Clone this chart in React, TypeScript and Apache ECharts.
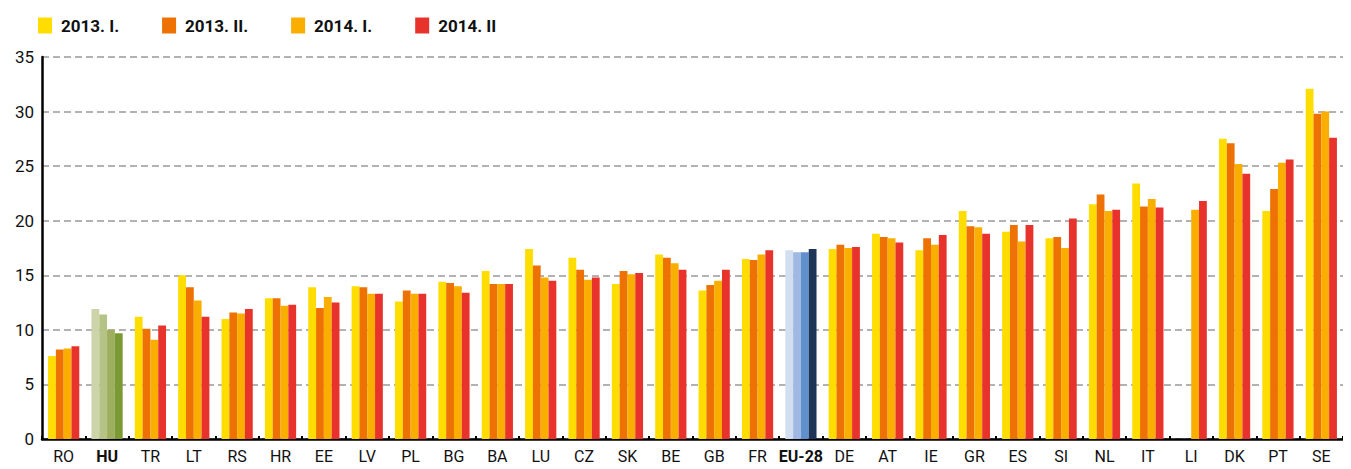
import React, { useEffect, useRef } from "react";
import * as echarts from "echarts";

const categories = ["RO","HU","TR","LT","RS","HR","EE","LV","PL","BG","BA","LU","CZ","SK","BE","GB","FR","EU-28","DE","AT","IE","GR","ES","SI","NL","IT","LI","DK","PT","SE"];
const seriesNames = ["2013. I.", "2013. II.", "2014. I.", "2014. II"];
const s2013I = [7.6,11.9,11.2,15.0,11.0,12.9,13.9,14.0,12.6,14.4,15.4,17.4,16.6,14.2,16.9,13.6,16.5,17.3,17.4,18.8,17.3,20.9,19.0,18.4,21.5,23.4,null,27.5,20.9,32.1];
const s2013II = [8.2,11.4,10.1,13.9,11.6,12.9,12.0,13.9,13.6,14.3,14.2,15.9,15.5,15.4,16.6,14.1,16.4,17.1,17.8,18.5,18.4,19.5,19.6,18.5,22.4,21.3,null,27.1,22.9,29.8];
const s2014I = [8.3,10.0,9.1,12.7,11.5,12.2,13.0,13.3,13.3,14.0,14.2,14.8,14.6,15.1,16.1,14.5,16.9,17.1,17.5,18.4,17.8,19.4,18.1,17.5,20.9,22.0,21.0,25.2,25.3,30.0];
const s2014II = [8.5,9.7,10.4,11.2,11.9,12.3,12.5,13.3,13.3,13.4,14.2,14.5,14.8,15.2,15.5,15.5,17.3,17.4,17.6,18.0,18.7,18.8,19.6,20.2,21.0,21.2,21.8,24.3,25.6,27.6];
const seriesValues = [s2013I, s2013II, s2014I, s2014II];
const seriesColors = ["#FFDD00", "#EE7203", "#F9AE00", "#E8332C"];
const huColors = ["#CDD4AA", "#B6C386", "#9DAF5E", "#7C9A34"];
const euColors = ["#D2DFF1", "#A0B9E2", "#6090CC", "#1F3558"];
const yTicks = [0, 5, 10, 15, 20, 25, 30, 35];

export default function App() {
  const ref = useRef<HTMLDivElement>(null);
  useEffect(() => {
    const chart = echarts.init(ref.current!, null, { renderer: "svg" });
    const font = "Roboto";
    chart.setOption({
      animation: false,
      textStyle: { fontFamily: font },
      legend: {
        left: 25,
        top: 4,
        itemWidth: 14,
        itemHeight: 16,
        itemGap: 43,
        icon: "rect",
        textStyle: { fontSize: 17, fontWeight: "bold", color: "#111", fontFamily: font, padding: [0, 0, 0, 4] },
        data: seriesNames,
      },
      grid: { left: 34, right: 8, top: 49, bottom: 30, containLabel: false },
      xAxis: {
        type: "category",
        data: categories,
        axisLine: { lineStyle: { color: "#000", width: 2.5 } },
        axisTick: { show: true, inside: true, length: 3, interval: 0, lineStyle: { color: "#000", width: 2 } },
        axisLabel: {
          interval: 0,
          margin: 9,
          fontSize: 16,
          color: "#111",
          formatter: (v: string) => (v === "HU" || v === "EU-28" ? `{b|${v}}` : v),
          rich: { b: { fontWeight: "bold", fontSize: 16, color: "#111", fontFamily: font } },
        },
      },
      yAxis: {
        type: "value",
        min: yTicks[0],
        max: yTicks[yTicks.length - 1],
        interval: 5,
        axisLine: { show: true, lineStyle: { color: "#000", width: 2.5 } },
        axisTick: { show: false },
        axisLabel: { fontSize: 17, color: "#111", margin: 8 },
        splitLine: { lineStyle: { color: "#999", width: 1.5, type: [7, 4] } },
      },
      series: seriesNames.map((name, i) => ({
        name,
        type: "bar",
        barGap: "0%",
        barCategoryGap: "28%",
        itemStyle: { color: seriesColors[i] },
        data: seriesValues[i].map((v, j) => {
          if (categories[j] === "HU") return { value: v, itemStyle: { color: huColors[i] } };
          if (categories[j] === "EU-28") return { value: v, itemStyle: { color: euColors[i] } };
          return v;
        }),
      })),
    });
    return () => chart.dispose();
  }, []);
  return <div ref={ref} style={{ width: 1343, height: 461 }} />;
}
